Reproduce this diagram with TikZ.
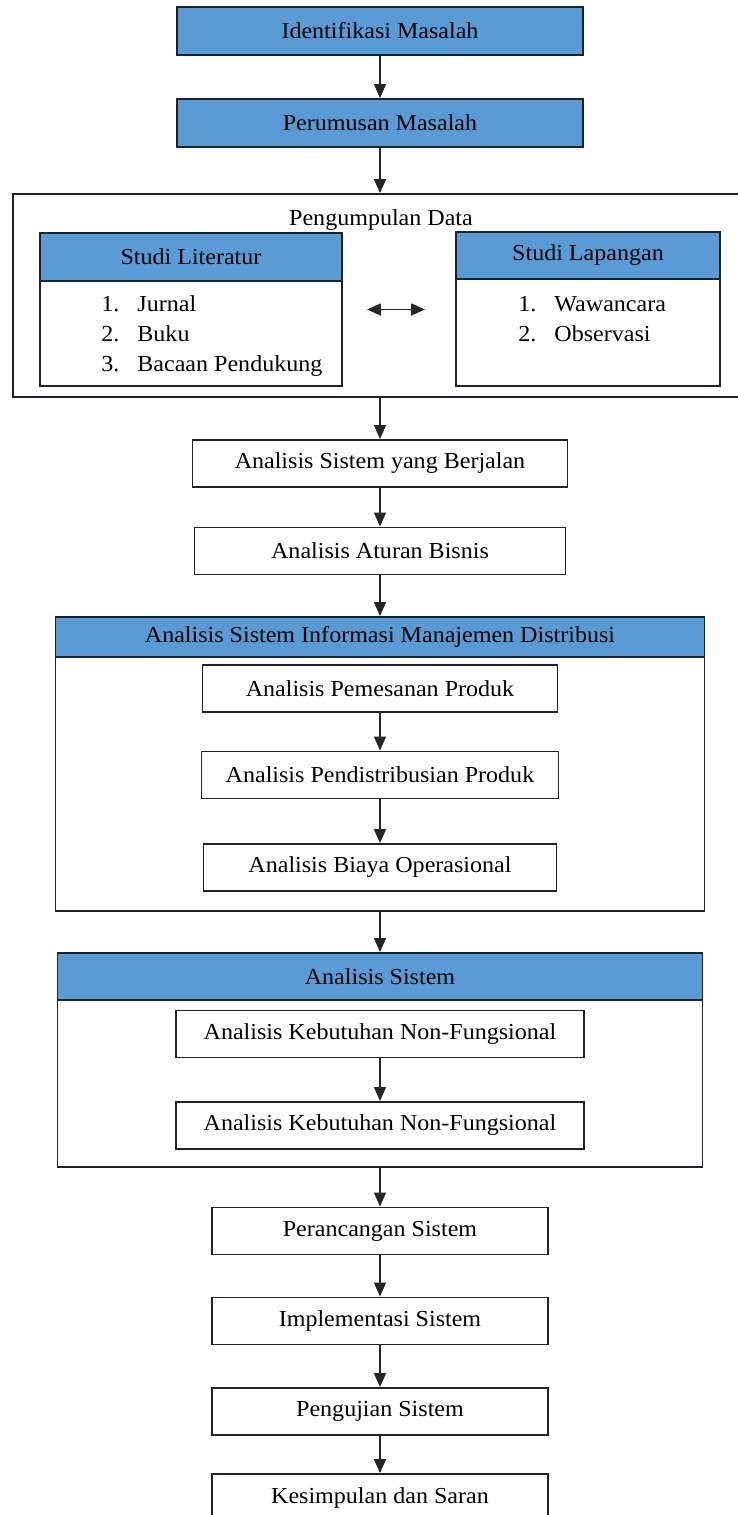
\documentclass[tikz,border=0pt]{standalone}
\usepackage{fontspec}
\setmainfont{Liberation Serif}[FakeStretch=1.05]
\usetikzlibrary{arrows.meta,positioning}
\definecolor{headblue}{RGB}{91,155,213}
\definecolor{edgedark}{RGB}{30,34,44}
\tikzset{
  every node/.style={font=\fontsize{11.45pt}{15pt}\selectfont},
  stepnode/.style={draw=edgedark, line width=0.9pt, fill=white, minimum height=23.5pt, inner sep=0pt},
  headnode/.style={stepnode, fill=headblue},
  framenode/.style={draw=edgedark, line width=0.9pt, inner sep=0pt},
  arr/.style={-{Triangle[length=7pt,width=6pt]}, line width=0.65pt, black!85},
  dblarr/.style={{Triangle[length=7pt,width=6pt]}-{Triangle[length=7pt,width=6pt]}, line width=0.65pt, black!85},
}
\begin{document}
\begin{tikzpicture}[x=0.5pt,y=-0.5pt]
  \useasboundingbox (0,0) rectangle (738,1515);

  % masalah
  \node[headnode, minimum width=203pt, minimum height=24pt] (ident) at (380,31) {Identifikasi Masalah};
  \node[headnode, minimum width=203pt, minimum height=24pt] (perum) at (380,123) {Perumusan Masalah};

  % pengumpulan data
  \node[framenode, minimum width=367pt, minimum height=101.5pt] (kumpul) at (380,295.5) {};
  \node (kumpultitle) at (381,220) {Pengumpulan Data};
  \node[stepnode, minimum width=151pt, minimum height=76.5pt] (lit) at (191,309.5) {};
  \node[headnode, minimum width=151pt, minimum height=24pt, anchor=north] (lithead) at (lit.north) {Studi Literatur};
  \node[stepnode, minimum width=132pt, minimum height=77pt] (lap) at (588,309) {};
  \node[headnode, minimum width=132pt, minimum height=23.5pt, anchor=north] (laphead) at (lap.north) {Studi Lapangan};
  \node[inner sep=0pt, anchor=base west] (litlist) at (101,311)
    {\begin{tabular}[t]{@{}l@{\hspace{9pt}}l@{}}1.&Jurnal\\2.&Buku\\3.&Bacaan Pendukung\end{tabular}};
  \node[inner sep=0pt, anchor=base west] (laplist) at (518,311)
    {\begin{tabular}[t]{@{}l@{\hspace{9pt}}l@{}}1.&Wawancara\\2.&Observasi\end{tabular}};
  \draw[dblarr, shorten <=12pt, shorten >=15pt] (lit.east) -- (lit.east -| lap.west);

  % analisis
  \node[stepnode, minimum width=187.5pt] (jalan) at (380,463.5) {Analisis Sistem yang Berjalan};
  \node[stepnode, minimum width=185.5pt] (aturan) at (380,551) {Analisis Aturan Bisnis};

  \node[framenode, minimum width=324.5pt, minimum height=147pt] (simd) at (380,764) {};
  \node[headnode, minimum width=324.5pt, minimum height=20pt, anchor=north] (simdhead) at (simd.north) {Analisis Sistem Informasi Manajemen Distribusi};
  \node[stepnode, minimum width=177.5pt] (pesan) at (380,688.5) {Analisis Pemesanan Produk};
  \node[stepnode, minimum width=178.5pt] (distrib) at (380,775) {Analisis Pendistribusian Produk};
  \node[stepnode, minimum width=176.5pt] (biaya) at (380,867.5) {Analisis Biaya Operasional};

  \node[framenode, minimum width=322.5pt, minimum height=107pt] (ansis) at (380,1060) {};
  \node[headnode, minimum width=322.5pt, minimum height=23.5pt, anchor=north] (ansishead) at (ansis.north) {Analisis Sistem};
  \node[stepnode, minimum width=204pt] (butuha) at (380,1034) {Analisis Kebutuhan Non-Fungsional};
  \node[stepnode, minimum width=204pt] (butuhb) at (380,1125.5) {Analisis Kebutuhan Non-Fungsional};

  % tahap akhir
  \node[stepnode, minimum width=168pt] (rancang) at (380,1231) {Perancangan Sistem};
  \node[stepnode, minimum width=168pt] (implem) at (380,1321) {Implementasi Sistem};
  \node[stepnode, minimum width=168pt] (uji) at (380,1411.5) {Pengujian Sistem};
  \node[stepnode, minimum width=168pt] (simpul) at (380,1497.5) {Kesimpulan dan Saran};

  \foreach \a/\b in {ident/perum, perum/kumpul, kumpul/jalan, jalan/aturan, aturan/simd,
                     pesan/distrib, distrib/biaya, simd/ansis, butuha/butuhb,
                     ansis/rancang, rancang/implem, implem/uji, uji/simpul}
    \draw[arr] (\a.south) -- (\a.south |- \b.north);
\end{tikzpicture}
\end{document}
